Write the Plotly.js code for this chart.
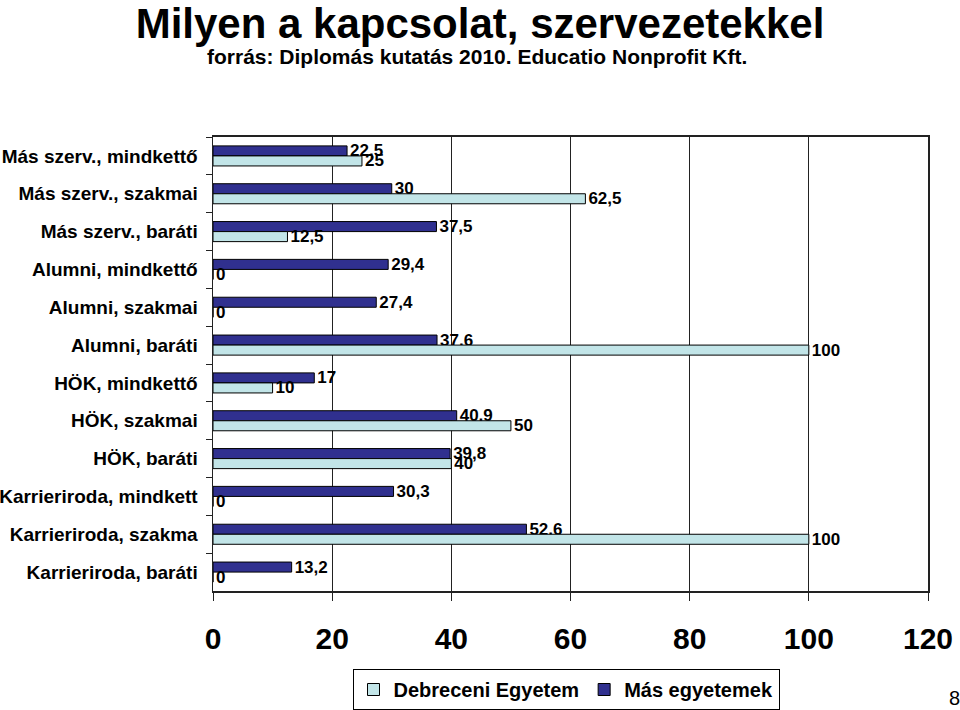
<!DOCTYPE html>
<html>
<head>
<meta charset="utf-8">
<script src="https://cdn.plot.ly/plotly-3.0.1.min.js"></script>
<style>
  html, body { margin: 0; padding: 0; background: #fff; }
  #chart { width: 960px; height: 710px; }
</style>
</head>
<body>
<div id="chart"></div>
<script>
// Kapcsolat szervezetekkel - DE vs. más egyetemek (%)
const categories = [
    'Más szerv., mindkettő',
    'Más szerv., szakmai',
    'Más szerv., baráti',
    'Alumni, mindkettő',
    'Alumni, szakmai',
    'Alumni, baráti',
    'HÖK, mindkettő',
    'HÖK, szakmai',
    'HÖK, baráti',
    'Karrieriroda, mindkett',
    'Karrieriroda, szakma',
    'Karrieriroda, baráti'
];
const debreceniEgyetem = [25, 62.5, 12.5, 0, 0, 100, 10, 50, 40, 0, 100, 0];
const masEgyetemek = [22.5, 30, 37.5, 29.4, 27.4, 37.6, 17, 40.9, 39.8, 30.3, 52.6, 13.2];
const xTicks = [0, 20, 40, 60, 80, 100, 120];

const sans = '"Liberation Sans", Arial, sans-serif';

// decimal comma like the original slide
const fmt = v => String(v).replace('.', ',');

const traceMas = {
    type: 'bar',
    orientation: 'h',
    name: 'Más egyetemek',
    y: categories,
    x: masEgyetemek,
    text: masEgyetemek.map(fmt),
    textposition: 'outside',
    constraintext: 'none',
    cliponaxis: false,
    textfont: { family: sans, size: 17, color: '#000', weight: 'bold' },
    marker: { color: '#30308f', line: { color: '#000', width: 1 } },
    hoverinfo: 'none'
};

const traceDE = {
    type: 'bar',
    orientation: 'h',
    name: 'Debreceni Egyetem',
    y: categories,
    x: debreceniEgyetem,
    text: debreceniEgyetem.map(fmt),
    textposition: 'outside',
    constraintext: 'none',
    cliponaxis: false,
    textfont: { family: sans, size: 17, color: '#000', weight: 'bold' },
    marker: { color: '#c2e5e8', line: { color: '#000', width: 1 } },
    hoverinfo: 'none'
};

const layout = {
    width: 960,
    height: 710,
    margin: { l: 213, r: 32, t: 137, b: 119 },
    paper_bgcolor: '#fff',
    plot_bgcolor: '#fff',
    separators: ',.',
    barmode: 'group',
    bargap: 0.47,
    bargroupgap: 0,
    title: {
        text: 'Milyen a kapcsolat, szervezetekkel',
        font: { family: sans, size: 42, color: '#000', weight: 'bold' },
        x: 0.5,
        xref: 'container',
        xanchor: 'center',
        y: 1 - 23 / 710,
        yref: 'container',
        yanchor: 'middle'
    },
    annotations: [
        {
            text: 'forrás: Diplomás kutatás 2010. Educatio Nonprofit Kft.',
            xref: 'paper', yref: 'paper',
            x: (477 - 213) / 715, y: (591 - 56) / 454,
            xanchor: 'center', yanchor: 'middle',
            showarrow: false,
            font: { family: sans, size: 21, color: '#000', weight: 'bold' }
        },
        {
            text: '8',
            xref: 'paper', yref: 'paper',
            x: (954 - 213) / 715, y: -(698 - 591) / 454,
            xanchor: 'center', yanchor: 'middle',
            showarrow: false,
            font: { family: sans, size: 20, color: '#000' }
        }
    ],
    xaxis: {
        range: [0, 120],
        tickvals: xTicks,
        ticktext: xTicks.map(String),
        ticks: 'outside',
        ticklen: 8,
        tickcolor: '#222',
        ticklabelstandoff: 12,
        tickfont: { family: sans, size: 30, color: '#000', weight: 'bold' },
        showgrid: true,
        gridcolor: '#222',
        gridwidth: 1,
        showline: true,
        linecolor: '#222',
        linewidth: 2,
        mirror: true,
        zeroline: false,
        automargin: false,
        fixedrange: true
    },
    yaxis: {
        type: 'category',
        categoryorder: 'array',
        categoryarray: categories,
        autorange: 'reversed',
        ticks: 'outside',
        tickson: 'boundaries',
        ticklen: 6,
        tickcolor: '#222',
        ticklabelstandoff: 10,
        tickfont: { family: sans, size: 19, color: '#000', weight: 'bold' },
        showgrid: false,
        showline: true,
        linecolor: '#222',
        linewidth: 1.5,
        mirror: true,
        zeroline: false,
        automargin: false,
        fixedrange: true
    },
    showlegend: true,
    legend: {
        orientation: 'h',
        traceorder: 'reversed',
        xref: 'container',
        yref: 'container',
        x: 566 / 960,
        xanchor: 'center',
        y: 1 - 669 / 710,
        yanchor: 'top',
        bgcolor: '#fff',
        bordercolor: '#000',
        borderwidth: 1,
        font: { family: sans, size: 20, color: '#000', weight: 'bold' },
        itemwidth: 30
    }
};

Plotly.newPlot('chart', [traceMas, traceDE], layout, { displayModeBar: false, staticPlot: true });
</script>
</body>
</html>
